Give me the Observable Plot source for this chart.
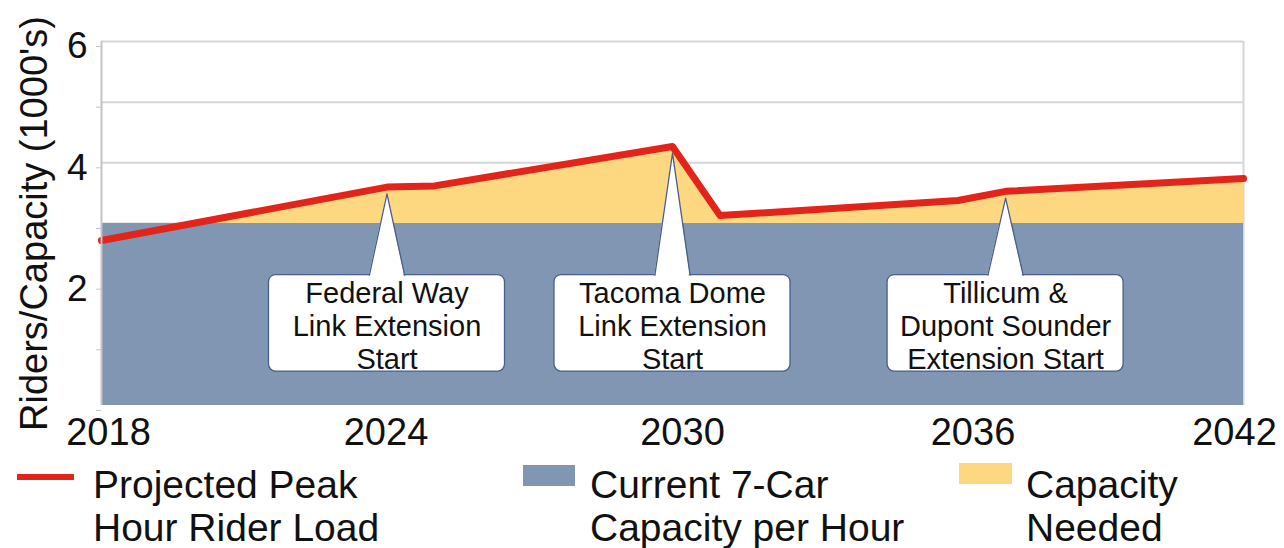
<!DOCTYPE html>
<html>
<head>
<meta charset="utf-8">
<script src="https://cdn.jsdelivr.net/npm/d3@7"></script>
<script src="https://cdn.jsdelivr.net/npm/@observablehq/plot@0.6"></script>
<style>
  body { margin: 0; background: #fff; font-family: "Liberation Sans", Arial, sans-serif; }
  #wrap { position: relative; width: 1284px; height: 548px; overflow: hidden; background: #fff; }
  #chart { position: absolute; left: 0; top: 0; }
  .lg-swatch { position: absolute; }
  .lg-text { position: absolute; font-size: 39px; line-height: 43px; color: #111; white-space: pre; }
</style>
</head>
<body>
<div id="wrap"><div id="chart"></div></div>
<script>
// ---- data ----
const years = [2018, 2024, 2025, 2030, 2031, 2036, 2037, 2042];
const riderLoad = [2.72, 3.60, 3.62, 4.27, 3.13, 3.38, 3.53, 3.74];
const capacity = [3.0, 3.0, 3.0, 3.0, 3.0, 3.0, 3.0, 3.0];

const xTicks = [2018, 2024, 2030, 2036, 2042];
const yTicks = [0, 1, 2, 3, 4, 5, 6];
const yLabelTicks = [2, 4, 6];
const yLabel = "Riders/Capacity (1000's)";

const calloutYears = [2024, 2030, 2037];
const calloutLabels = [
  "Federal Way\nLink Extension\nStart",
  "Tacoma Dome\nLink Extension\nStart",
  "Tillicum &\nDupont Sounder\nExtension Start"
];

const legendLabels = ["Projected Peak\nHour Rider Load", "Current 7-Car\nCapacity per Hour", "Capacity\nNeeded"];

// ---- styles ----
const RED = "#e3241b", BLUE = "#8096b3", YELLOW = "#fdd880";
const legendColors = [RED, BLUE, YELLOW];
const GRID = "#d6d6d6";
const BOX_STROKE = "#4a5e8c";
const xTickShift = [7, -1, 10, 15, -9]; // label offsets (px) as placed in the original

const data = years.map((year, i) => ({year, load: riderLoad[i], cap: capacity[i]}));

// callout geometry (layout, in data units around each callout year)
const loadAt = (yr) => {
  const i = years.findIndex((y, k) => k < years.length - 1 && yr >= y && yr <= years[k + 1]);
  const t = (yr - years[i]) / (years[i + 1] - years[i]);
  return riderLoad[i] + t * (riderLoad[i + 1] - riderLoad[i]);
};
const HALF_W = 2.48, BOX_TOP = 2.15, BOX_BOT = 0.56, BASE_HALF = 0.37, TIP_GAP = 0.11;
const callouts = calloutYears.map((yr, i) => ({
  id: i, x: yr, text: calloutLabels[i],
  x1: yr - HALF_W, x2: yr + HALF_W, y1: BOX_BOT, y2: BOX_TOP,
  tip: loadAt(yr) - TIP_GAP
}));
const pointer = callouts.flatMap(c => [
  {id: c.id, x: c.x - BASE_HALF, y: BOX_TOP},
  {id: c.id, x: c.x, y: c.tip},
  {id: c.id, x: c.x + BASE_HALF, y: BOX_TOP}
]);

const xAxes = xTicks.map((t, i) =>
  Plot.axisX([t], {tickFormat: d => String(d), tickSize: 0, tickPadding: 13, fontSize: 38, fill: "#111", dx: xTickShift[i], label: null})
);

const chart = Plot.plot({
  width: 1284,
  height: 455,
  marginTop: 41,
  marginBottom: 50,
  marginLeft: 101,
  marginRight: 41,
  style: {fontFamily: "'Liberation Sans', Arial, sans-serif", color: "#111", background: "white", overflow: "visible"},
  x: {domain: [2018, 2042]},
  y: {domain: [0, 6]},
  marks: [
    Plot.gridY(yTicks.filter(d => d > 0), {stroke: GRID, strokeOpacity: 1, strokeWidth: 2}),
    Plot.ruleX([2042], {stroke: GRID, strokeWidth: 2}),
    Plot.areaY(data, {x: "year", y: "load", fill: YELLOW}),
    Plot.areaY(data, {x: "year", y: "cap", fill: BLUE}),
    Plot.line(data, {x: "year", y: "load", stroke: RED, strokeWidth: 7}),
    Plot.ruleX([2018], {stroke: "#c4c4c4", strokeWidth: 2}),
    Plot.axisY({ticks: yTicks, tickFormat: d => yLabelTicks.includes(d) ? String(d) : "",
      tickSize: 5, tickPadding: 9, fontSize: 37, stroke: "#c4c4c4", fill: "#111", dy: 5, label: null}),
    Plot.text([yLabel], {frameAnchor: "left", textAnchor: "middle", text: d => d, rotate: -90, dx: -67, fontSize: 38, fill: "#111"}),
    ...xAxes,
    // callouts
    Plot.rect(callouts, {x1: "x1", x2: "x2", y1: "y1", y2: "y2", rx: 7, fill: "white", stroke: BOX_STROKE, strokeWidth: 1.3}),
    Plot.areaY(pointer, {x: "x", y1: BOX_TOP, y2: "y", z: "id", fill: "white", curve: "linear"}),
    Plot.ruleY(callouts, {y: "y2", x1: c => c.x - BASE_HALF + 0.02, x2: c => c.x + BASE_HALF - 0.02, stroke: "white", strokeWidth: 3}),
    Plot.line(pointer, {x: "x", y: "y", z: "id", stroke: BOX_STROKE, strokeWidth: 1.3}),
    Plot.text(callouts, {x: "x", y: c => (c.y1 + c.y2) / 2, text: "text", fontSize: 29, lineHeight: 1.14, fill: "#111", lineAnchor: "middle", dy: 2})
  ]
});
document.getElementById("chart").appendChild(chart);

// ---- legend (HTML, below the svg) ----
const wrap = document.getElementById("wrap");
const swatchPos = [{left: 17, top: 474, w: 57, h: 6}, {left: 523, top: 465, w: 52, h: 21}, {left: 959, top: 463, w: 53, h: 21}];
const textPos = [93, 590, 1026];
legendLabels.forEach((lab, i) => {
  const s = document.createElement("div");
  s.className = "lg-swatch";
  const p = swatchPos[i];
  Object.assign(s.style, {left: p.left + "px", top: p.top + "px", width: p.w + "px", height: p.h + "px", background: legendColors[i]});
  wrap.appendChild(s);
  const t = document.createElement("div");
  t.className = "lg-text";
  t.style.left = textPos[i] + "px";
  t.style.top = "463px";
  t.textContent = lab;
  wrap.appendChild(t);
});
</script>
</body>
</html>
